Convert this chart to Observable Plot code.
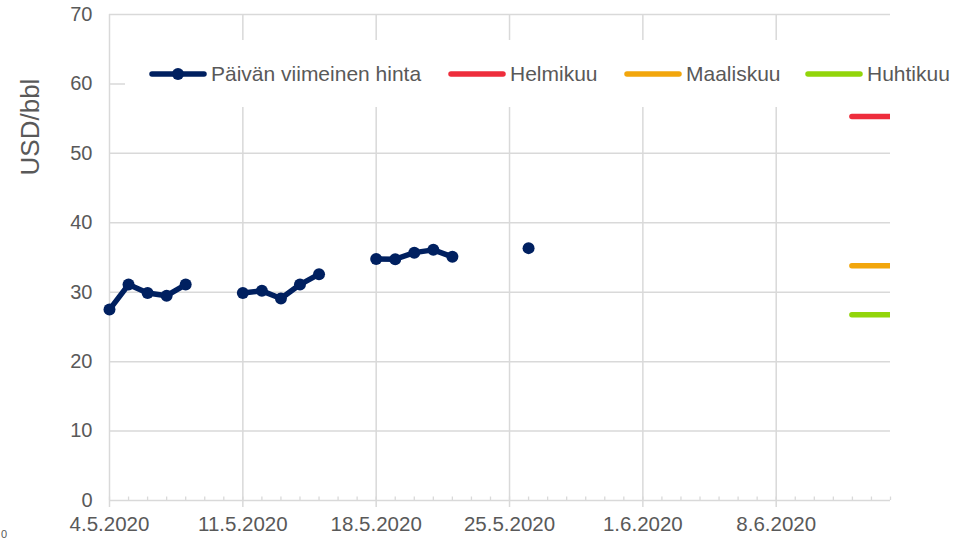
<!DOCTYPE html>
<html>
<head>
<meta charset="utf-8">
<script src="https://cdn.jsdelivr.net/npm/d3@7"></script>
<script src="https://cdn.jsdelivr.net/npm/@observablehq/plot@0.6"></script>
<style>
  html, body { margin: 0; padding: 0; background: white; }
  #wrap { position: relative; width: 971px; height: 539px; overflow: hidden; font-family: "Liberation Sans", Arial, sans-serif; color: #595959; }
  #legend { position: absolute; left: 125px; top: 40px; width: 840px; height: 67px; background: white; }
  .item { position: absolute; top: 0; height: 67px; display: flex; align-items: center; font-size: 21px; white-space: nowrap; }
  .item svg { margin-right: 4px; }
  #ylabel { position: absolute; left: 30px; top: 127px; transform: translate(-50%, -50%) rotate(-90deg); font-size: 26px; white-space: nowrap; }
  #stray { position: absolute; left: 1px; top: 529px; font-size: 11px; line-height: 11px; }
</style>
</head>
<body>
<div id="wrap"></div>
<script>
// ---- data ----
const priceDates = ["2020-05-04","2020-05-05","2020-05-06","2020-05-07","2020-05-08","2020-05-09","2020-05-10",
  "2020-05-11","2020-05-12","2020-05-13","2020-05-14","2020-05-15","2020-05-16","2020-05-17",
  "2020-05-18","2020-05-19","2020-05-20","2020-05-21","2020-05-22","2020-05-23","2020-05-24","2020-05-25","2020-05-26"];
const priceValues = [27.5, 31.1, 29.9, 29.5, 31.1, null, null,
  29.9, 30.2, 29.1, 31.1, 32.6, null, null,
  34.8, 34.75, 35.7, 36.1, 35.1, null, null, null, 36.35];
const forwardNames = ["Helmikuu", "Maaliskuu", "Huhtikuu"];
const forwardValues = [55.3, 33.8, 26.75];
const forwardStart = "2020-06-12";
const forwardEnd = "2020-06-16";
const seriesName = "Päivän viimeinen hinta";
const yTicks = [0, 10, 20, 30, 40, 50, 60, 70];
const xTickDates = ["2020-05-04","2020-05-11","2020-05-18","2020-05-25","2020-06-01","2020-06-08"];
const xTickLabels = ["4.5.2020","11.5.2020","18.5.2020","25.5.2020","1.6.2020","8.6.2020"];
const xDomain = ["2020-05-04", "2020-06-14"];

// ---- styles ----
const BLUE = "#002060";
const forwardColors = ["#ee2d3c", "#f2a60c", "#92d50a"];
const GRID = "#d9d9d9";

const price = priceDates.map((d, i) => ({date: new Date(d), value: priceValues[i]}));
const xTicks = xTickDates.map(d => new Date(d));
const x0 = new Date(xDomain[0]), x1 = new Date(xDomain[1]);
const days = d3.utcDay.range(x0, d3.utcDay.offset(x1, 1));
const fmt = d => { const i = xTicks.findIndex(t => +t === +d); return i >= 0 ? xTickLabels[i] : ""; };

const forwardMarks = forwardNames.map((n, i) =>
  Plot.ruleY([forwardValues[i]], {x1: new Date(forwardStart), x2: new Date(forwardEnd), stroke: forwardColors[i], strokeWidth: 5.5, strokeLinecap: "round", clip: true})
);

const chart = Plot.plot({
  width: 971, height: 539,
  marginLeft: 109, marginRight: 81, marginTop: 14, marginBottom: 39,
  style: {fontFamily: "'Liberation Sans', Arial, sans-serif", color: "#595959", background: "white", overflow: "visible"},
  x: {type: "utc", domain: [x0, x1]},
  y: {domain: [0, 70]},
  marks: [
    Plot.ruleY(yTicks.slice(1), {stroke: GRID, strokeWidth: 1.5}),
    Plot.ruleX(xTicks.slice(1), {y1: 0, y2: 70, stroke: GRID, strokeWidth: 1.5}),
    Plot.ruleX(days, {y1: 0, y2: 0.5, stroke: GRID, strokeWidth: 1.3}),
    Plot.ruleY([0], {stroke: GRID, strokeWidth: 1.5}),
    Plot.ruleX([x0], {y1: 0, y2: 70, stroke: GRID, strokeWidth: 1.5}),
    Plot.axisX({ticks: xTicks, tickSize: 7, tickPadding: 9, tickFormat: fmt, fontSize: 20.5, stroke: GRID, strokeWidth: 1.5, fill: "#595959", label: null}),
    Plot.axisY({ticks: yTicks, tickSize: 0, tickPadding: 17, fontSize: 20, fill: "#595959", label: null}),
    ...forwardMarks,
    Plot.line(price, {x: "date", y: "value", stroke: BLUE, strokeWidth: 5.5, strokeLinejoin: "round", strokeLinecap: "round"}),
    Plot.dot(price.filter(d => d.value != null), {x: "date", y: "value", r: 6, fill: BLUE, stroke: "none"})
  ]
});

const wrap = document.getElementById("wrap");
wrap.appendChild(chart);

// legend overlay
const legend = document.createElement("div");
legend.id = "legend";
const legendItems = [
  {name: seriesName, color: BLUE, marker: true, left: 24},
  ...forwardNames.map((n, i) => ({name: n, color: forwardColors[i], marker: false, left: [323, 499, 680][i]}))
];
for (const it of legendItems) {
  const el = document.createElement("div");
  el.className = "item";
  el.style.left = it.left + "px";
  el.innerHTML = `<svg width="58" height="14"><line x1="3" y1="7" x2="55" y2="7" stroke="${it.color}" stroke-width="5.5" stroke-linecap="round"/>${it.marker ? `<circle cx="29" cy="7" r="6" fill="${it.color}"/>` : ""}</svg><span>${it.name}</span>`;
  legend.appendChild(el);
}
wrap.appendChild(legend);

const yl = document.createElement("div");
yl.id = "ylabel";
yl.textContent = "USD/bbl";
wrap.appendChild(yl);

const stray = document.createElement("div");
stray.id = "stray";
stray.textContent = "0";
wrap.appendChild(stray);
</script>
</body>
</html>
